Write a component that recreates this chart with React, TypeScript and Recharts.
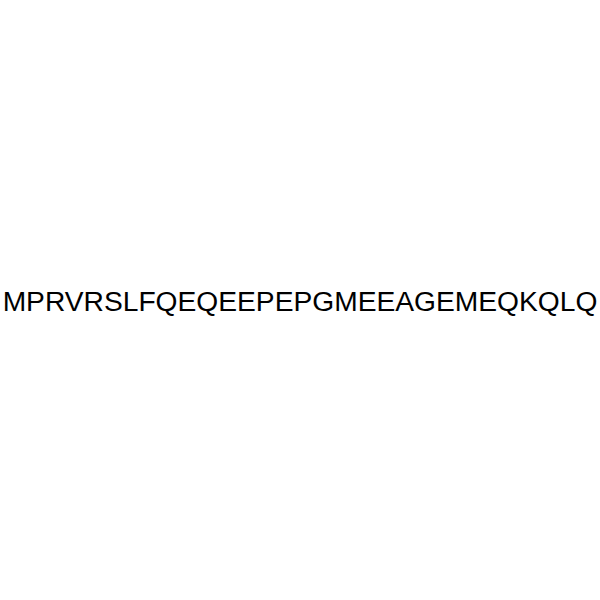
import React from "react";
import { Surface, Text } from "recharts";

// Peptide sequence shown in the reference image
const SEQUENCE = "MPRVRSLFQEQEEPEPGMEEAGEMEQKQLQ";

const WIDTH = 600;
const HEIGHT = 600;

export default function App() {
  return (
    <div
      style={{
        position: "absolute",
        left: 0,
        top: 0,
        width: WIDTH,
        height: HEIGHT,
        background: "#ffffff",
      }}
    >
      <Surface width={WIDTH} height={HEIGHT}>
        <Text
          x={WIDTH / 2}
          y={311}
          textAnchor="middle"
          verticalAnchor="end"
          fontFamily="'Liberation Sans', Arial, sans-serif"
          fontSize={28.2}
          fill="#000000"
        >
          {SEQUENCE}
        </Text>
      </Surface>
    </div>
  );
}
